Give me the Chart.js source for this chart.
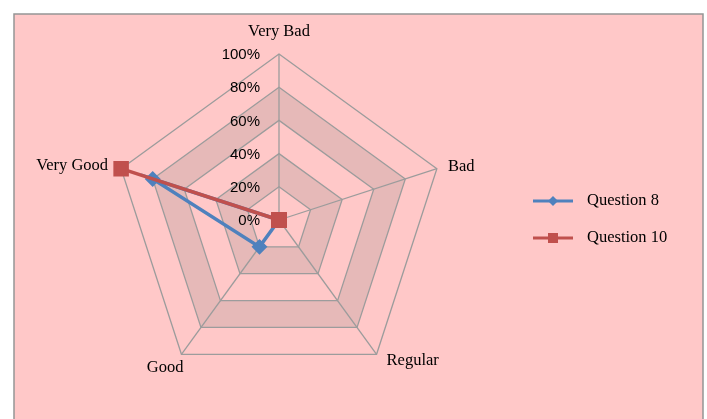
<!DOCTYPE html>
<html>
<head>
<meta charset="utf-8">
<script src="https://cdn.jsdelivr.net/npm/chart.js@4.4.1/dist/chart.umd.min.js"></script>
<style>
html,body{margin:0;padding:0;background:#ffffff;}
#wrap{position:relative;width:707px;height:419px;}
</style>
</head>
<body>
<div id="wrap"><canvas id="c" width="707" height="419"></canvas></div>
<script>
const categories = ["Very Bad", "Bad", "Regular", "Good", "Very Good"];
const question8 = [0, 0, 0, 20, 80];
const question10 = [0, 0, 0, 0, 100];
const tickLabels = ["0%", "20%", "40%", "60%", "80%", "100%"];
const tickValues = [0, 20, 40, 60, 80, 100];

const SERIF = '"Liberation Serif", "Times New Roman", serif';
const SANS = '"Liberation Sans", Arial, sans-serif';

// offsets for point labels relative to the 100% vertex: [dx, dy, align]
const labelPlace = [
  [0, -22, 'center'],
  [11, -2, 'left'],
  [10, 6, 'left'],
  [2, 13, 'right'],
  [-13, -3, 'right']
];

const decor = {
  id: 'decor',
  beforeDraw(chart) {
    const ctx = chart.ctx;
    const s = chart.scales.r;
    ctx.save();
    ctx.fillStyle = '#ffffff';
    ctx.fillRect(0, 0, chart.width, chart.height);
    ctx.fillStyle = '#ffc8c8';
    ctx.fillRect(14, 14, 689, 420);
    ctx.strokeStyle = '#959595';
    ctx.lineWidth = 1.5;
    ctx.strokeRect(14, 14, 689, 420);
    const n = categories.length;
    const bands = [[20, 40], [60, 80]];
    ctx.fillStyle = '#e6b9b8';
    bands.forEach(([a, b]) => {
      const ra = s.getDistanceFromCenterForValue(a);
      const rb = s.getDistanceFromCenterForValue(b);
      ctx.beginPath();
      for (let i = 0; i < n; i++) {
        const p = s.getPointPosition(i, rb);
        i ? ctx.lineTo(p.x, p.y) : ctx.moveTo(p.x, p.y);
      }
      ctx.closePath();
      for (let i = n - 1; i >= 0; i--) {
        const p = s.getPointPosition(i, ra);
        i === n - 1 ? ctx.moveTo(p.x, p.y) : ctx.lineTo(p.x, p.y);
      }
      ctx.closePath();
      ctx.fill('evenodd');
    });
    ctx.restore();
  },
  beforeDatasetsDraw(chart) {
    const ctx = chart.ctx;
    const s = chart.scales.r;
    ctx.save();
    ctx.font = '15px ' + SANS;
    ctx.fillStyle = '#000000';
    ctx.textAlign = 'right';
    ctx.textBaseline = 'middle';
    tickValues.forEach((v, i) => {
      const d = s.getDistanceFromCenterForValue(v);
      ctx.fillText(tickLabels[i], s.xCenter - 19, s.yCenter - d + 1);
    });
    ctx.font = '16.5px ' + SERIF;
    categories.forEach((lab, i) => {
      const p = s.getPointPosition(i, s.drawingArea);
      const [dx, dy, al] = labelPlace[i];
      ctx.textAlign = al;
      ctx.fillText(lab, p.x + dx, p.y + dy);
    });
    ctx.restore();
  },
  afterDraw(chart) {
    const ctx = chart.ctx;
    ctx.save();
    const ys = [201, 238];
    chart.data.datasets.forEach((ds, i) => {
      const y = ys[i];
      ctx.strokeStyle = ds.borderColor;
      ctx.lineWidth = 3;
      ctx.beginPath();
      ctx.moveTo(533, y);
      ctx.lineTo(573, y);
      ctx.stroke();
      ctx.fillStyle = ds.pointBackgroundColor;
      ctx.beginPath();
      if (ds.pointStyle === 'rectRot') {
        ctx.moveTo(553, y - 5); ctx.lineTo(558, y); ctx.lineTo(553, y + 5); ctx.lineTo(548, y);
      } else {
        ctx.rect(548, y - 5, 10, 10);
      }
      ctx.closePath();
      ctx.fill();
      ctx.fillStyle = '#000000';
      ctx.font = '16.5px ' + SERIF;
      ctx.textAlign = 'left';
      ctx.textBaseline = 'middle';
      ctx.fillText(ds.label, 587, y);
    });
    ctx.restore();
  }
};

new Chart(document.getElementById('c'), {
  type: 'radar',
  data: {
    labels: categories,
    datasets: [
      {
        label: 'Question 8',
        data: question8,
        borderColor: '#4f81bd',
        backgroundColor: '#4f81bd',
        pointBackgroundColor: '#4f81bd',
        pointBorderColor: '#4f81bd',
        pointStyle: 'rectRot',
        pointRadius: 5.5,
        borderWidth: 3.5,
        fill: false,
        tension: 0,
        order: 1
      },
      {
        label: 'Question 10',
        data: question10,
        borderColor: '#c0504d',
        backgroundColor: '#c0504d',
        pointBackgroundColor: '#c0504d',
        pointBorderColor: '#c0504d',
        pointStyle: 'rect',
        pointRadius: 8.5,
        borderWidth: 3.5,
        fill: false,
        tension: 0,
        order: 0
      }
    ]
  },
  options: {
    responsive: false,
    animation: false,
    layout: { padding: { left: 113, right: 262, top: 54, bottom: 33 } },
    plugins: { legend: { display: false }, tooltip: { enabled: false } },
    elements: { line: { borderJoinStyle: 'miter' } },
    scales: {
      r: {
        min: 0,
        max: 100,
        ticks: { display: false, stepSize: 20 },
        pointLabels: { display: false },
        grid: { color: '#9c9c9c', lineWidth: 1.3 },
        angleLines: { color: '#9c9c9c', lineWidth: 1.3 }
      }
    }
  },
  plugins: [decor]
});
</script>
</body>
</html>
